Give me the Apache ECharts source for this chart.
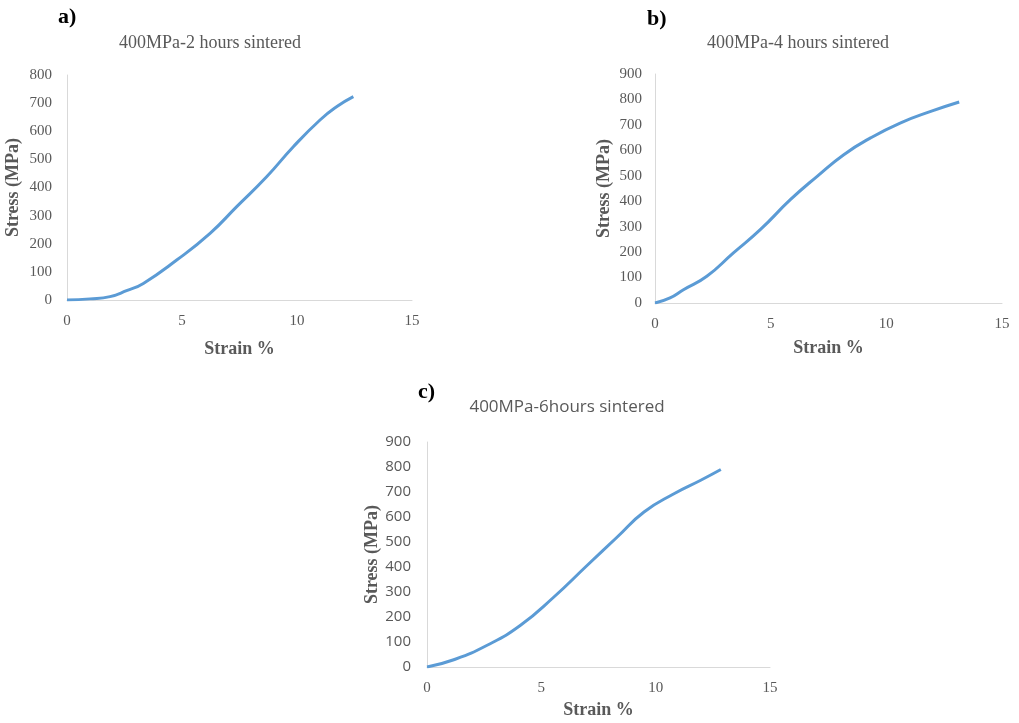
<!DOCTYPE html>
<html lang="en">
<head>
    <meta charset="UTF-8">
    <title>Stress-strain curves</title>
    <style>
        html, body { margin: 0; padding: 0; background: #fff; }
        #chart { width: 1019px; height: 723px; }
    </style>
</head>
<body>
    <div id="chart"></div>
    <script src="https://cdn.jsdelivr.net/npm/echarts@6/dist/echarts.min.js"></script>
    <script>
        // values
        var strainA = [0, 1.0, 1.87, 2.59, 3.32, 4.77, 6.22, 7.38, 8.68, 9.84, 11.0, 11.72, 12.45];
        var stressA = [0, 4, 12, 33, 59, 142, 237, 332, 438, 545, 640, 687, 723];

        var strainB = [0, 0.65, 1.23, 2.24, 3.39, 4.55, 5.85, 7.01, 8.16, 9.32, 10.62, 11.92, 13.15];
        var stressB = [0, 20, 52, 105, 197, 288, 406, 498, 583, 649, 708, 753, 790];

        var strainC = [0, 1.17, 2.63, 4.09, 5.55, 7.01, 8.32, 9.49, 10.8, 11.97, 12.85];
        var stressC = [0, 29, 87, 167, 280, 407, 520, 620, 693, 747, 790];

        var xTicksMax = 15;
        var titles = ['400MPa-2 hours sintered', '400MPa-4 hours sintered', '400MPa-6hours sintered'];
        var panelLabels = ['a)', 'b)', 'c)'];

        function pairs(xs, ys) {
            return xs.map(function (x, i) { return [x, ys[i]]; });
        }

        var grey = '#595959';
        var serif = '"Liberation Serif", "DejaVu Serif", serif';
        var sans = '"Open Sans", "Liberation Sans", sans-serif';

        var chart = echarts.init(document.getElementById('chart'));

        function xAx(idx, gap, labelFont) {
            return {
                gridIndex: idx, type: 'value', min: 0, max: xTicksMax, interval: 5,
                name: 'Strain %', nameLocation: 'middle', nameGap: gap,
                nameTextStyle: { color: grey, fontFamily: serif, fontWeight: 'bold', fontSize: 18 },
                axisLine: { show: true, onZero: false, lineStyle: { color: '#d9d9d9', width: 1 } },
                axisTick: { show: false },
                splitLine: { show: false },
                axisLabel: { color: grey, fontFamily: labelFont, fontSize: 15, margin: 14 }
            };
        }
        function yAx(idx, max, gap, labelFont, labelMargin) {
            return {
                gridIndex: idx, type: 'value', min: 0, max: max, interval: 100,
                name: 'Stress (MPa)', nameLocation: 'middle', nameGap: gap, nameRotate: 90,
                nameTextStyle: { color: grey, fontFamily: serif, fontWeight: 'bold', fontSize: 18 },
                axisLine: { show: true, lineStyle: { color: '#d9d9d9', width: 1 } },
                axisTick: { show: false },
                splitLine: { show: false },
                axisLabel: { color: grey, fontFamily: labelFont, fontSize: 15, margin: labelMargin }
            };
        }
        function line(idx, data) {
            return {
                type: 'line', xAxisIndex: idx, yAxisIndex: idx, data: data,
                smooth: true, showSymbol: false, symbol: 'none',
                lineStyle: { color: '#5b9bd5', width: 3 }
            };
        }

        var labelStyle = { fontFamily: serif, fontWeight: 'bold', fontSize: 22, color: '#000' };

        var option = {
            animation: false,
            title: [
                { text: panelLabels[0], left: 58, top: 6, padding: 0, textStyle: labelStyle },
                { text: panelLabels[1], left: 647, top: 8, padding: 0, textStyle: labelStyle },
                { text: panelLabels[2], left: 418, top: 381, padding: 0, textStyle: labelStyle },
                { text: titles[0], left: 210, top: 34, padding: 0, textAlign: 'center', textStyle: { fontFamily: serif, fontWeight: 'normal', fontSize: 18, color: grey } },
                { text: titles[1], left: 798, top: 34, padding: 0, textAlign: 'center', textStyle: { fontFamily: serif, fontWeight: 'normal', fontSize: 18, color: grey } },
                { text: titles[2], left: 567, top: 399, padding: 0, textAlign: 'center', textStyle: { fontFamily: sans, fontWeight: 'normal', fontSize: 17, color: grey } }
            ],
            grid: [
                { left: 67, top: 75, width: 345, height: 225 },
                { left: 655, top: 74, width: 347, height: 229 },
                { left: 427, top: 442, width: 343, height: 225 }
            ],
            xAxis: [xAx(0, 40, serif), xAx(1, 36, serif), xAx(2, 34, serif)],
            yAxis: [yAx(0, 800, 45, serif, 15), yAx(1, 900, 42, serif, 13), yAx(2, 900, 46, sans, 16)],
            series: [
                line(0, pairs(strainA, stressA)),
                line(1, pairs(strainB, stressB)),
                line(2, pairs(strainC, stressC))
            ]
        };
        chart.setOption(option);
    </script>
</body>
</html>
